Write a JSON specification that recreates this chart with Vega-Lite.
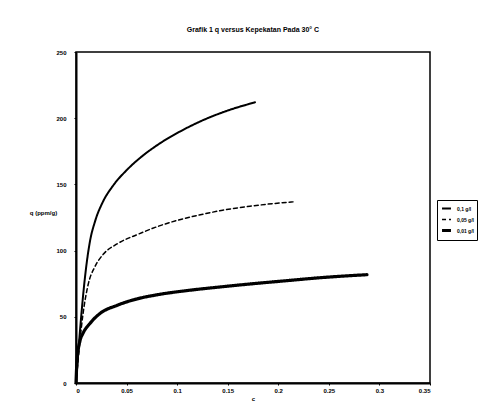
{
  "$schema": "https://vega.github.io/schema/vega-lite/v6.json",
  "autosize": "none",
  "width": 354,
  "height": 331,
  "padding": {"left": 76, "top": 52, "right": 58, "bottom": 26},
  "background": "white",
  "title": {"text": "Grafik 1 q versus Kepekatan Pada 30° C", "fontSize": 7, "fontWeight": "bold", "font": "Liberation Sans", "color": "black", "offset": 16, "anchor": "middle"},
  "config": {
    "view": {"stroke": "black", "strokeWidth": 1.5},
    "axis": {"labelFont": "Liberation Sans", "labelFontSize": 6, "labelFontWeight": "bold", "labelColor": "black", "titleFont": "Liberation Sans", "titleFontSize": 6, "titleFontWeight": "bold", "titleColor": "black", "domainColor": "black", "tickColor": "black", "grid": false}
  },
  "data": {"values": [
    {"s": "A", "c": 0, "q": 0},
    {"s": "A", "c": 0.004, "q": 40},
    {"s": "A", "c": 0.0089, "q": 80},
    {"s": "A", "c": 0.0138, "q": 107},
    {"s": "A", "c": 0.0188, "q": 122},
    {"s": "A", "c": 0.0267, "q": 137},
    {"s": "A", "c": 0.0366, "q": 149},
    {"s": "A", "c": 0.0504, "q": 161},
    {"s": "A", "c": 0.0633, "q": 170},
    {"s": "A", "c": 0.08, "q": 179.5},
    {"s": "A", "c": 0.103, "q": 190},
    {"s": "A", "c": 0.1256, "q": 198.5},
    {"s": "A", "c": 0.149, "q": 205.5},
    {"s": "A", "c": 0.177, "q": 212},
    {"s": "B", "c": 0, "q": 0},
    {"s": "B", "c": 0.0069, "q": 52},
    {"s": "B", "c": 0.0119, "q": 74},
    {"s": "B", "c": 0.0188, "q": 88},
    {"s": "B", "c": 0.0267, "q": 97},
    {"s": "B", "c": 0.0405, "q": 105},
    {"s": "B", "c": 0.0603, "q": 112},
    {"s": "B", "c": 0.08, "q": 118},
    {"s": "B", "c": 0.0999, "q": 122.8},
    {"s": "B", "c": 0.1256, "q": 127.5},
    {"s": "B", "c": 0.145, "q": 130.5},
    {"s": "B", "c": 0.172, "q": 133.5},
    {"s": "B", "c": 0.199, "q": 135.8},
    {"s": "B", "c": 0.2146, "q": 136.8},
    {"s": "C", "c": 0, "q": 0},
    {"s": "C", "c": 0.001, "q": 17},
    {"s": "C", "c": 0.004, "q": 32},
    {"s": "C", "c": 0.0069, "q": 37.5},
    {"s": "C", "c": 0.0138, "q": 45},
    {"s": "C", "c": 0.0237, "q": 52.5},
    {"s": "C", "c": 0.0405, "q": 58.6},
    {"s": "C", "c": 0.0603, "q": 63.5},
    {"s": "C", "c": 0.08, "q": 66.6},
    {"s": "C", "c": 0.1097, "q": 69.8},
    {"s": "C", "c": 0.142, "q": 72.5},
    {"s": "C", "c": 0.175, "q": 75},
    {"s": "C", "c": 0.2086, "q": 77.3},
    {"s": "C", "c": 0.241, "q": 79.5},
    {"s": "C", "c": 0.274, "q": 81.2},
    {"s": "C", "c": 0.2877, "q": 81.8}
  ]},
  "mark": {"type": "line", "color": "black", "strokeCap": "round", "strokeJoin": "round", "interpolate": "monotone"},
  "encoding": {
    "x": {"field": "c", "type": "quantitative", "scale": {"domain": [0, 0.35], "nice": false, "zero": true},
      "axis": {"title": "c", "values": [0, 0.05, 0.1, 0.15, 0.2, 0.25, 0.3, 0.35], "labelExpr": "datum.value == 0 ? '0' : format(datum.value, '.2~f')", "domainWidth": 2, "tickSize": 2, "labelPadding": 2, "titlePadding": 2}},
    "y": {"field": "q", "type": "quantitative", "scale": {"domain": [0, 250], "nice": false},
      "axis": {"title": "q (ppm/g)", "values": [0, 50, 100, 150, 200, 250], "domainWidth": 2, "tickSize": 2, "labelPadding": 8, "titleAngle": 0, "titleX": -33, "titleY": 160, "titleAlign": "center", "titleBaseline": "middle"}},
    "strokeDash": {"field": "s", "type": "nominal", "scale": {"domain": ["A", "B", "C"], "range": [[1, 0], [4, 3], [1, 0]]},
      "legend": {"title": null, "orient": "none", "legendX": 361, "legendY": 148, "strokeColor": "black", "padding": 3, "labelFontSize": 5, "labelFont": "Liberation Sans", "labelFontWeight": "bold", "labelColor": "black", "symbolType": "stroke", "symbolSize": 80, "symbolStrokeColor": "black", "rowPadding": 1, "labelExpr": "datum.value == 'A' ? '0,1 g/l' : datum.value == 'B' ? '0,05 g/l' : '0,01 g/l'"}},
    "strokeWidth": {"field": "s", "type": "nominal", "scale": {"type": "ordinal", "domain": ["A", "B", "C"], "range": [2, 1.5, 3.2]}, "legend": null}
  }
}
